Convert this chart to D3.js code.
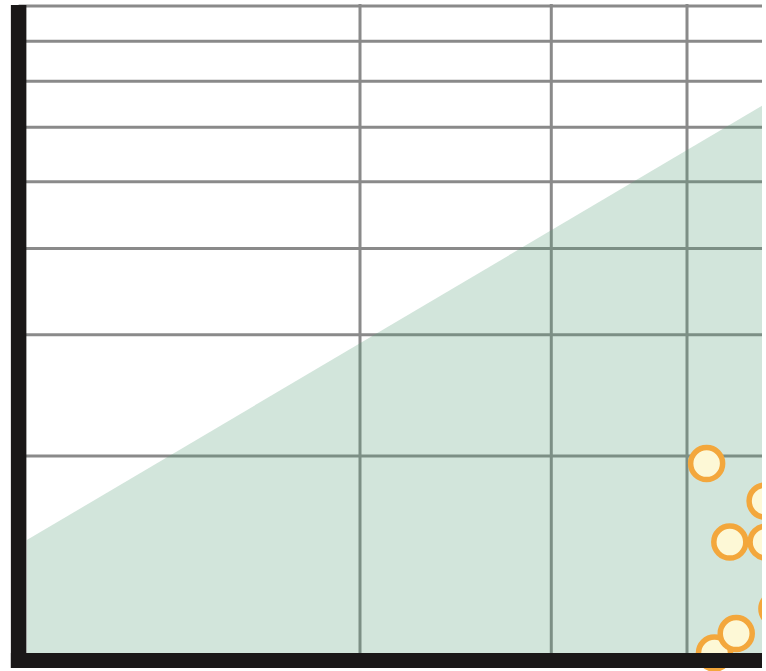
<!DOCTYPE html>
<html>
<head>
<meta charset="utf-8">
<script src="https://cdn.jsdelivr.net/npm/d3@7"></script>
<style>
  html, body { margin: 0; padding: 0; background: #fff; }
  svg { display: block; }
</style>
</head>
<body>
<svg id="chart" width="766" height="671"></svg>
<script>
// ---- data ----
const xGridValues = [20, 30, 40];
const yGridValues = [20, 30, 40, 50, 60, 70, 80, 90];
const boundaryX = [9.87, 48];
const boundaryY = [15.1, 65.9];
const pointX = [42.4, 44.4, 48.4, 43.8, 47.3, 41.7, 47.2];
const pointY = [10.35, 11.05, 12.0, 15.0, 15.0, 19.5, 17.2];
const xMin = 9.7, xMax = 48;
const yMin = 10.1, yMax = 95;

// ---- scales ----
const x = d3.scaleLog().domain([10, 40]).range([33, 687]);
const y = d3.scaleLog().domain([20, 90]).range([456, 6]);

const svg = d3.select("#chart");
const defs = svg.append("defs");
defs.append("clipPath").attr("id", "plotClip")
  .append("rect").attr("x", 0).attr("y", 4).attr("width", 762).attr("height", 667);

const g = svg.append("g").attr("clip-path", "url(#plotClip)");

// gridlines
g.append("g").selectAll("line").data(yGridValues).join("line")
  .attr("x1", x(xMin)).attr("x2", x(xMax))
  .attr("y1", d => y(d)).attr("y2", d => y(d))
  .attr("stroke", "#8a8a8a").attr("stroke-width", 3);
g.append("g").selectAll("line").data(xGridValues).join("line")
  .attr("x1", d => x(d)).attr("x2", d => x(d))
  .attr("y1", y(yMax)).attr("y2", y(yMin))
  .attr("stroke", "#8a8a8a").attr("stroke-width", 3);

// green region below the boundary
const poly = [
  [boundaryX[0], boundaryY[0]],
  [boundaryX[1], boundaryY[1]],
  [boundaryX[1], yMin],
  [boundaryX[0], yMin]
];
g.append("path")
  .attr("d", d3.line().x(d => x(d[0])).y(d => y(d[1]))(poly) + "Z")
  .attr("fill", "#5a9e7a").attr("fill-opacity", 0.27);

// points
g.append("g").selectAll("circle").data(pointX.map((v, i) => [v, pointY[i]])).join("circle")
  .attr("cx", d => x(d[0])).attr("cy", d => y(d[1]))
  .attr("r", 16)
  .attr("fill", "#fdf8d6")
  .attr("stroke", "#f3a73c").attr("stroke-width", 5.5);

// axes (thick black bars)
g.append("line")
  .attr("x1", x(xMin)).attr("x2", x(xMin))
  .attr("y1", 5).attr("y2", y(yMin) + 7.5)
  .attr("stroke", "#1a1818").attr("stroke-width", 15.5);
g.append("line")
  .attr("x1", x(xMin) - 7.75).attr("x2", 762)
  .attr("y1", y(yMin)).attr("y2", y(yMin))
  .attr("stroke", "#1a1818").attr("stroke-width", 15);
</script>
</body>
</html>
